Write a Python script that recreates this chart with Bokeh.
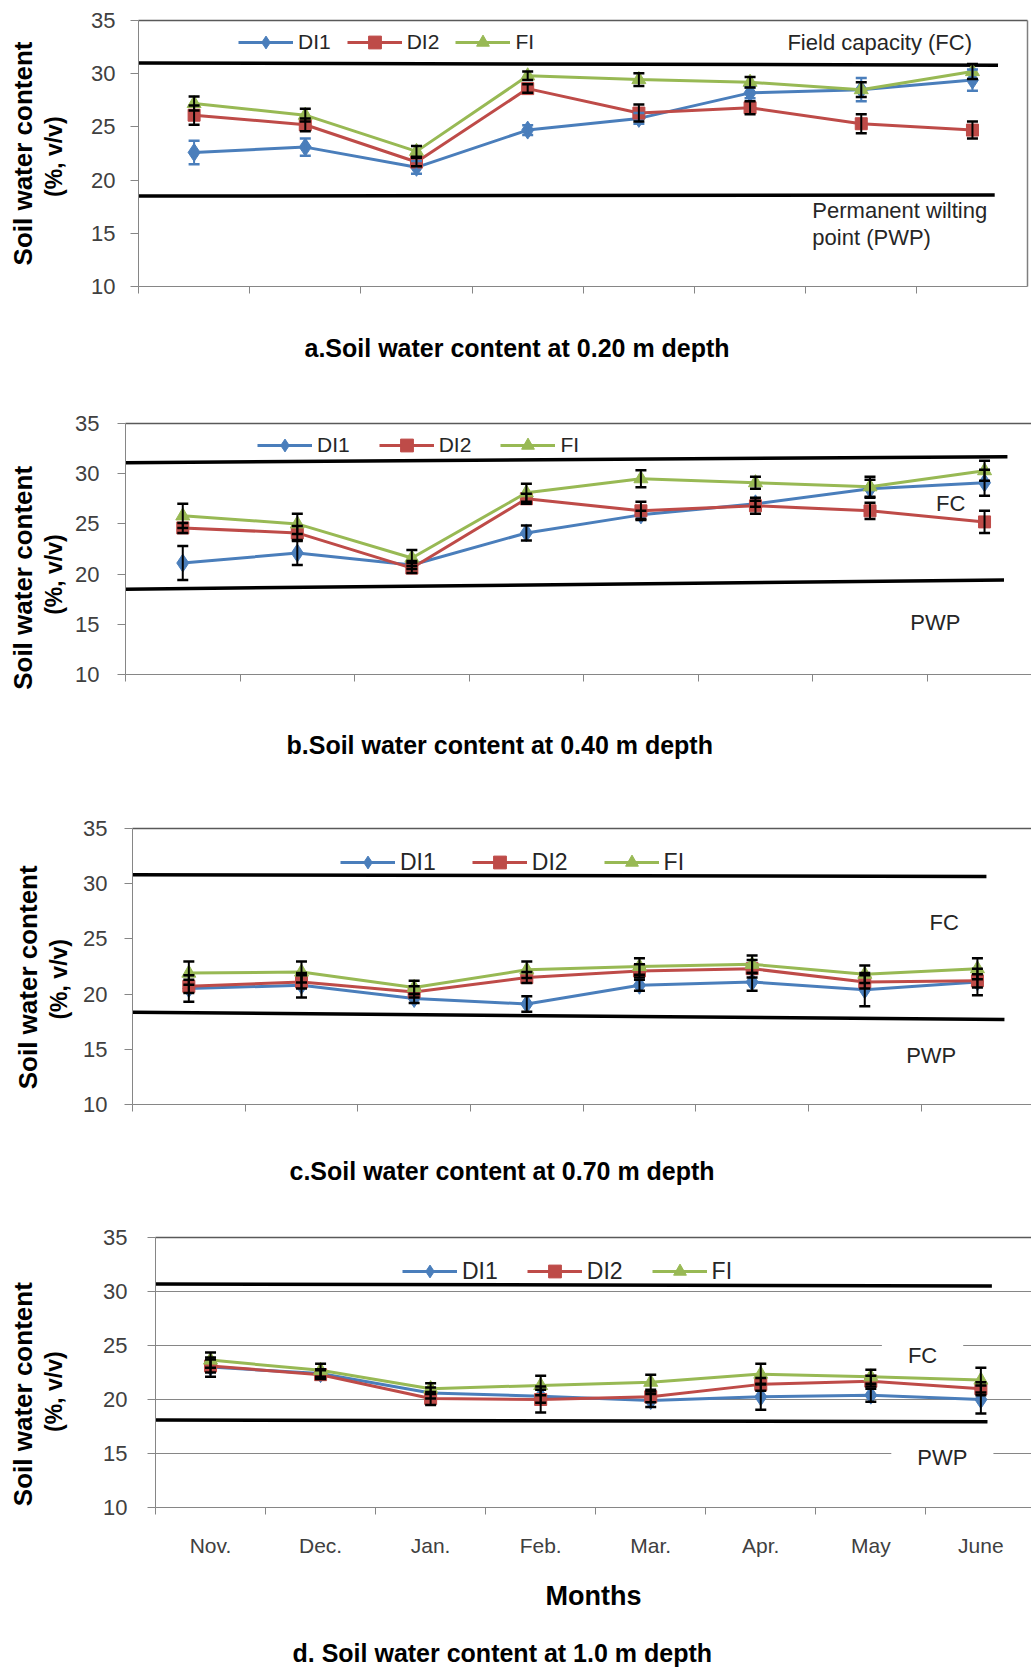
from bokeh.plotting import figure
from bokeh.models import (Range1d, LinearAxis, FixedTicker, Legend, LegendItem,
                          Whisker, TeeHead, ColumnDataSource, Label, Title)
from bokeh.embed import file_html
from bokeh.resources import INLINE

# ---------------- data ----------------
months = ["Nov.", "Dec.", "Jan.", "Feb.", "Mar.", "Apr.", "May", "June"]
series_names = ["DI1", "DI2", "FI"]
y_ticks = [10, 15, 20, 25, 30, 35]

# a. 0.20 m depth
di1_a = [22.6, 23.1, 21.2, 24.7, 25.8, 28.2, 28.5, 29.4]
di1_a_err = [1.1, 0.8, 0.6, 0.45, 0.5, 0.5, 1.1, 1.0]
di2_a = [26.1, 25.2, 21.7, 28.6, 26.3, 26.8, 25.3, 24.7]
di2_a_err = [0.9, 0.6, 0.4, 0.4, 0.8, 0.6, 0.9, 0.8]
fi_a = [27.2, 26.1, 22.7, 29.8, 29.45, 29.2, 28.5, 30.2]
fi_a_err = [0.65, 0.6, 0.5, 0.4, 0.6, 0.5, 0.7, 0.7]
fc_a = [31.0, 30.8]
pwp_a = [18.5, 18.6]

# b. 0.40 m depth
di1_b = [21.1, 22.1, 20.9, 24.1, 25.9, 27.0, 28.5, 29.1]
di1_b_err = [1.7, 1.2, 0.4, 0.75, 0.4, 0.3, 0.9, 1.3]
di2_b = [24.6, 24.1, 20.6, 27.5, 26.3, 26.8, 26.3, 25.2]
di2_b_err = [0.5, 0.7, 0.5, 0.5, 0.9, 0.8, 0.8, 1.1]
fi_b = [25.8, 25.0, 21.6, 28.1, 29.5, 29.1, 28.7, 30.3]
fi_b_err = [1.2, 1.0, 0.8, 0.9, 0.85, 0.6, 1.0, 1.0]
fc_b = [31.1, 31.7]
pwp_b = [18.5, 19.4]

# c. 0.70 m depth
di1_c = [20.5, 20.8, 19.6, 19.1, 20.8, 21.1, 20.4, 21.1]
di1_c_err = [1.2, 1.1, 0.4, 0.7, 0.5, 0.8, 1.5, 1.2]
di2_c = [20.7, 21.1, 20.2, 21.5, 22.1, 22.3, 21.1, 21.2]
di2_c_err = [0.6, 0.6, 0.5, 0.5, 0.6, 0.8, 0.6, 0.6]
fi_c = [21.9, 22.0, 20.6, 22.2, 22.5, 22.7, 21.8, 22.3]
fi_c_err = [1.05, 0.95, 0.6, 0.75, 0.75, 0.8, 0.8, 0.95]
fc_c = [30.8, 30.65]
pwp_c = [18.35, 17.7]

# d. 1.0 m depth
di1_d = [23.0, 22.4, 20.6, 20.3, 19.9, 20.25, 20.4, 20.0]
di1_d_err = [0.9, 0.4, 0.5, 0.6, 0.6, 1.2, 0.6, 1.3]
di2_d = [23.1, 22.3, 20.1, 20.0, 20.25, 21.4, 21.7, 21.0]
di2_d_err = [0.6, 0.4, 0.6, 1.2, 0.5, 0.6, 0.5, 0.6]
fi_d = [23.65, 22.7, 21.0, 21.3, 21.6, 22.35, 22.1, 21.8]
fi_d_err = [0.7, 0.6, 0.5, 0.9, 0.7, 0.95, 0.65, 1.15]
fc_d = [30.7, 30.5]
pwp_d = [18.1, 17.95]

# ---------------- styles ----------------
FONT = "Liberation Sans"
COLORS = ["#4A7EBB", "#BE4B48", "#98B954"]
MARKERS = [("diamond", 18), ("square", 12), ("triangle", 14)]
AXIS_GRAY = "#868686"
TEXT = "#262626"
W = 1031
NB = "\u00a0"

xc = [i + 0.5 for i in range(len(months))]
bounds = list(range(len(months)))


def blank_axis(**kw):
    return LinearAxis(ticker=FixedTicker(ticks=[]), axis_line_color=None,
                      major_tick_line_color=None, minor_tick_line_color=None,
                      major_label_text_font_size="0px", **kw)


def label_axis(text, size, standoff):
    return blank_axis(axis_label=text, axis_label_text_font=FONT,
                      axis_label_text_font_size=size,
                      axis_label_text_font_style="bold",
                      axis_label_text_color="black",
                      axis_label_standoff=standoff)


def make_panel(height, b_top, b_bottom, b_left, b_right, xmax, series, errs, fc, fc_end,
               pwp, pwp_end, leg_xy, leg_spacing, leg_font, tick_standoff,
               lab_standoff, outer_standoff, lab_pad, title, title_offset,
               title_gap, notes, grid=False, month_axis=False,
               di1_err_color="black", right_border=False):
    p = figure(width=W, height=height, x_range=Range1d(0, xmax), y_range=Range1d(10, 35),
               output_backend="svg", toolbar_location=None,
               min_border_top=b_top, min_border_bottom=b_bottom,
               min_border_left=b_left, min_border_right=b_right,
               background_fill_color="white", border_fill_color="white",
               outline_line_color=None)

    p.xgrid.visible = False
    if grid:
        p.ygrid.ticker = FixedTicker(ticks=[15, 20, 25, 30])
        p.ygrid.grid_line_color = AXIS_GRAY
        p.ygrid.grid_line_width = 1
    else:
        p.ygrid.visible = False

    # inner y axis: line, ticks, tick labels
    ya = p.yaxis[0]
    ya.ticker = FixedTicker(ticks=y_ticks)
    ya.axis_line_color = AXIS_GRAY
    ya.major_tick_line_color = AXIS_GRAY
    ya.major_tick_out = 8
    ya.major_tick_in = 0
    ya.minor_tick_line_color = None
    ya.major_label_standoff = tick_standoff
    ya.major_label_text_font = FONT
    ya.major_label_text_font_size = "22px"
    ya.major_label_text_color = "#404040"

    # x axis
    xa = p.xaxis[0]
    if month_axis:
        xa.ticker = FixedTicker(ticks=xc, minor_ticks=bounds)
        xa.major_label_overrides = {v: m for v, m in zip(xc, months)}
        xa.major_label_text_font = FONT
        xa.major_label_text_font_size = "21px"
        xa.major_label_text_color = "#404040"
        xa.major_label_standoff = 19
        xa.axis_label = "Months"
        xa.axis_label_text_font = FONT
        xa.axis_label_text_font_size = "27px"
        xa.axis_label_text_font_style = "bold"
        xa.axis_label_text_color = "black"
        xa.axis_label_standoff = 21
    else:
        xa.ticker = FixedTicker(ticks=[], minor_ticks=bounds)
        xa.major_label_text_font_size = "0px"
    xa.axis_line_color = AXIS_GRAY
    xa.major_tick_line_color = None
    xa.major_tick_out = 0
    xa.major_tick_in = 0
    xa.minor_tick_line_color = AXIS_GRAY
    xa.minor_tick_out = 7
    xa.minor_tick_in = 0

    # top border (and right border for panel a)
    top = LinearAxis(ticker=FixedTicker(ticks=[]), axis_line_color="#595959",
                     axis_line_width=1.5, major_tick_line_color=None,
                     minor_tick_line_color=None, major_label_text_font_size="0px")
    p.add_layout(top, "above")
    if right_border:
        rgt = LinearAxis(ticker=FixedTicker(ticks=[]), axis_line_color="#7f7f7f",
                         axis_line_width=1.5, major_tick_line_color=None,
                         minor_tick_line_color=None, major_label_text_font_size="0px")
        p.add_layout(rgt, "right")

    # two-line y-axis title (non-breaking spaces nudge the centring)
    p.add_layout(label_axis("(%, v/v)" + NB * lab_pad[1], "23px", lab_standoff), "left")
    p.add_layout(label_axis("Soil water content" + NB * lab_pad[0], "26px",
                            outer_standoff), "left")

    # FC / PWP reference lines
    p.line([0, fc_end], fc, line_color="black", line_width=3.5)
    p.line([0, pwp_end], pwp, line_color="black", line_width=3.5)

    items = []
    for k, (name, vals, err) in enumerate(zip(series_names, series, errs)):
        col = COLORS[k]
        mk, sz = MARKERS[k]
        lr = p.line(xc, vals, line_color=col, line_width=3)
        sr = p.scatter(xc, vals, marker=mk, size=sz, fill_color=col, line_color=col)
        items.append(LegendItem(label=name, renderers=[lr, sr]))
        ecol = di1_err_color if k == 0 else "black"
        src = ColumnDataSource(dict(x=xc, upper=[v + e for v, e in zip(vals, err)],
                                    lower=[v - e for v, e in zip(vals, err)]))
        wh = Whisker(source=src, base="x", upper="upper", lower="lower",
                     line_color=ecol, line_width=2, level="annotation",
                     upper_head=TeeHead(size=11, line_color=ecol, line_width=2.5),
                     lower_head=TeeHead(size=11, line_color=ecol, line_width=2.5))
        p.add_layout(wh)

    legend = Legend(items=items, orientation="horizontal", location=leg_xy,
                    glyph_width=55, glyph_height=32, label_height=32,
                    label_standoff=5, spacing=leg_spacing, padding=0, margin=0,
                    border_line_color=None, background_fill_alpha=0,
                    label_text_font=FONT, label_text_font_size=leg_font,
                    label_text_color=TEXT)
    p.add_layout(legend)

    for (nx, ny, txt, align, boxed) in notes:
        kw = {}
        if boxed:
            kw = dict(background_fill_color="white",
                      padding=dict(left=26, right=26, top=1, bottom=1))
        p.add_layout(Label(x=nx, y=ny, text=txt, text_font=FONT, text_font_size="22px",
                           text_color=TEXT, text_align=align, text_baseline="middle",
                           level="annotation", **kw))

    # spacer between the axis and the panel caption, then the caption
    spacer = blank_axis(axis_label=NB, axis_label_text_font_size="1px",
                        axis_label_standoff=title_gap)
    p.add_layout(spacer, "below")
    t = Title(text=title, align="left", offset=title_offset, standoff=0,
              text_font=FONT, text_font_size="25px", text_font_style="bold",
              text_color="black")
    p.add_layout(t, "below")
    return p


pa = make_panel(375, 20, 89, 138, 4, 7.995,
                [di1_a, di2_a, fi_a], [di1_a_err, di2_a_err, fi_a_err],
                fc_a, 7.73, pwp_a, 7.70, (100, 228), 16, "21px", 15, 22, 0, (0, 1),
                "a.Soil water content at 0.20 m depth", 166, 34,
                [(5.836, 32.96, "Field capacity (FC)", "left", False),
                 (6.06, 17.14, "Permanent wilting", "left", False),
                 (6.06, 14.63, "point (PWP)", "left", False)],
                di1_err_color=COLORS[0], right_border=True)

pb = make_panel(410, 48, 111, 125, 0, 7.91,
                [di1_b, di2_b, fi_b], [di1_b_err, di2_b_err, fi_b_err],
                fc_b, 7.70, pwp_b, 7.67, (132, 213), 29, "21px", 18, 6, 0, (8, 8),
                "b.Soil water content at 0.40 m depth", 161, 43,
                [(7.205, 27.06, "FC", "center", False),
                 (7.07, 15.2, "PWP", "center", False)])

pc = make_panel(410, 43, 91, 132, 0, 7.98,
                [di1_c, di2_c, fi_c], [di1_c_err, di2_c_err, fi_c_err],
                fc_c, 7.58, pwp_c, 7.74, (208, 226), 36, "23px", 17, 9, 0, (3, 4),
                "c.Soil water content at 0.70 m depth", 157, 39,
                [(7.205, 26.47, "FC", "center", False),
                 (7.09, 14.45, "PWP", "center", False)])

pd_ = make_panel(474, 42, 162, 155, 0, 7.96,
                 [di1_d, di2_d, fi_d], [di1_d_err, di2_d_err, fi_d_err],
                 fc_d, 7.6, pwp_d, 7.56, (247, 220), 29, "23px", 20, 34, 0, (6, 6),
                 "d. Soil water content at 1.0 m depth", 137, 19,
                 [(6.97, 24.05, "FC", "center", True),
                  (7.15, 14.6, "PWP", "center", True)],
                 grid=True, month_axis=True)

open("out.html", "w").write(file_html([pa, pb, pc, pd_], INLINE))
